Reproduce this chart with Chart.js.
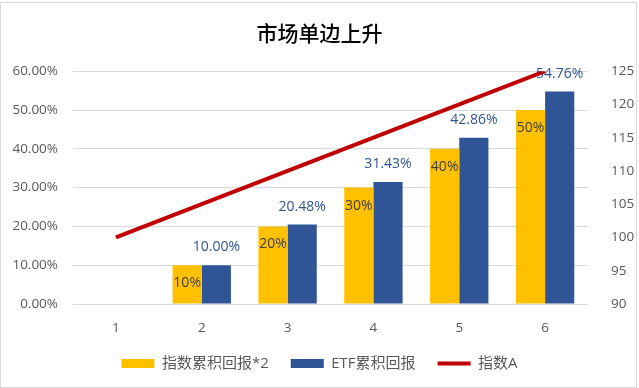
<!DOCTYPE html>
<html>
<head>
<meta charset="utf-8">
<script src="https://cdn.jsdelivr.net/npm/chart.js@4/dist/chart.umd.min.js"></script>
<style>
  html, body { margin: 0; padding: 0; background: #fff; }
  canvas { display: block; }
</style>
</head>
<body>
<canvas id="chart" width="639" height="388"></canvas>
<script>
// 图表数据
const categories = ['1', '2', '3', '4', '5', '6'];
const indexReturnX2 = [0, 10, 20, 30, 40, 50];          // 指数累积回报*2 (%)
const etfReturn = [0, 10.00, 20.48, 31.43, 42.86, 54.76]; // ETF累积回报 (%)
const indexA = [100, 105, 110, 115, 120, 125];            // 指数A
const seriesNames = ['指数累积回报*2', 'ETF累积回报', '指数A'];

const yellow = '#FFC000';
const blue = '#2F5597';
const red = '#C00000';
const gray = '#595959';

Chart.defaults.font.family = '"Open Sans", "Noto Sans CJK SC", sans-serif';
Chart.defaults.color = gray;

// 柱子上的数值标签
const labelPlugin = {
  id: 'barLabels',
  afterDatasetDraw(chart, args) {
    const ctx = chart.ctx;
    const i = args.index;
    if (i > 1) return;
    const data = chart.data.datasets[i].data;
    ctx.save();
    ctx.font = '14px "Open Sans", "Noto Sans CJK SC", sans-serif';
    ctx.textAlign = 'center';
    ctx.textBaseline = 'middle';
    args.meta.data.forEach((bar, j) => {
      const v = data[j];
      if (!v) return;
      if (i === 0) {
        ctx.fillStyle = '#404040';
        ctx.fillText(v + '%', bar.x, bar.y + 18);
      } else {
        ctx.fillStyle = blue;
        ctx.fillText(v.toFixed(2) + '%', bar.x, bar.y - 18);
      }
    });
    ctx.restore();
  }
};

// 背景和边框
const framePlugin = {
  id: 'frame',
  beforeDraw(chart) {
    const ctx = chart.ctx;
    ctx.save();
    ctx.fillStyle = '#fff';
    ctx.fillRect(0, 0, chart.width, chart.height);
    ctx.strokeStyle = '#d9d9d9';
    ctx.lineWidth = 1;
    ctx.strokeRect(0.5, 2.5, chart.width - 3, chart.height - 3);
    ctx.restore();
  }
};

new Chart(document.getElementById('chart'), {
  data: {
    labels: categories,
    datasets: [
      {
        type: 'bar',
        label: seriesNames[0],
        data: indexReturnX2,
        backgroundColor: yellow,
        yAxisID: 'y',
        barPercentage: 1.0,
        categoryPercentage: 0.68,
      },
      {
        type: 'bar',
        label: seriesNames[1],
        data: etfReturn,
        backgroundColor: blue,
        yAxisID: 'y',
        barPercentage: 1.0,
        categoryPercentage: 0.68,
      },
      {
        type: 'line',
        label: seriesNames[2],
        data: indexA,
        borderColor: red,
        backgroundColor: red,
        borderWidth: 4,
        pointRadius: 0,
        tension: 0,
        yAxisID: 'y2',
        order: -1,
      },
    ],
  },
  options: {
    responsive: false,
    animation: false,
    devicePixelRatio: 1,
    layout: {
      padding: { top: 0, right: 0, bottom: 7, left: 0 },
    },
    scales: {
      x: {
        grid: { display: false },
        border: { display: false },
        ticks: { font: { size: 13.5 }, color: gray, padding: 8 },
        afterFit(scale) { scale.height = 30; },
      },
      y: {
        position: 'left',
        min: 0,
        max: 60,
        grid: { color: '#d9d9d9', lineWidth: 1, drawTicks: false },
        border: { display: false },
        ticks: {
          stepSize: 10,
          font: { size: 13.5 },
          color: gray,
          padding: 15,
          callback: (v) => v.toFixed(2) + '%',
        },
        afterFit(scale) { scale.width = 73; },
      },
      y2: {
        position: 'right',
        min: 90,
        max: 125,
        grid: { display: false },
        border: { display: false },
        ticks: { stepSize: 5, font: { size: 13.5 }, color: gray, padding: 15 },
        afterFit(scale) { scale.width = 51; },
      },
    },
    plugins: {
      title: {
        display: true,
        text: '市场单边上升',
        color: '#000',
        font: { size: 21, weight: '500', family: '"Noto Sans CJK SC", sans-serif' },
        padding: { top: 20, bottom: 26 },
      },
      legend: {
        position: 'bottom',
        labels: {
          usePointStyle: true,
          pointStyleWidth: 33,
          boxHeight: 9,
          font: { size: 15 },
          color: gray,
          padding: 22,
          generateLabels(chart) {
            return chart.data.datasets.map((ds, i) => ({
              text: ds.label,
              fillStyle: ds.backgroundColor,
              strokeStyle: ds.type === 'line' ? ds.borderColor : ds.backgroundColor,
              lineWidth: ds.type === 'line' ? 4 : 0,
              pointStyle: ds.type === 'line' ? 'line' : 'rect',
              fontColor: gray,
              hidden: false,
              datasetIndex: i,
            }));
          },
        },
      },
      tooltip: { enabled: false },
    },
  },
  plugins: [framePlugin, labelPlugin],
});
</script>
</body>
</html>
